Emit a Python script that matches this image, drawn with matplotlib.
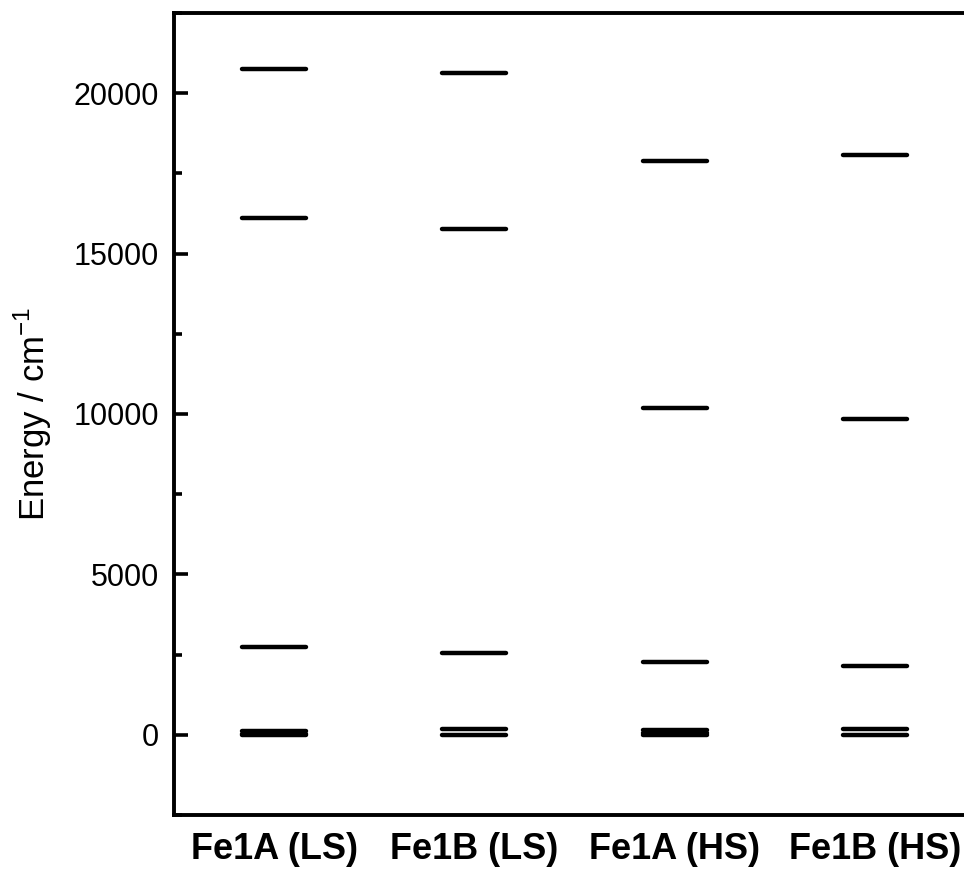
import numpy as np
import matplotlib
matplotlib.use('Agg')
from matplotlib import pyplot as plt
from matplotlib.ticker import MultipleLocator

plt.rcParams['font.family'] = ['Liberation Sans', 'DejaVu Sans']

# energy levels (cm-1) for each site / spin state
sites = ['Fe1A (LS)', 'Fe1B (LS)', 'Fe1A (HS)', 'Fe1B (HS)']
fe1a_ls = [0, 40, 110, 2730, 16120, 20760]
fe1b_ls = [0, 170, 2555, 15770, 20630]
fe1a_hs = [0, 70, 140, 2280, 10190, 17900]
fe1b_hs = [0, 180, 2150, 9840, 18080]
levels = [fe1a_ls, fe1b_ls, fe1a_hs, fe1b_hs]

fig = plt.figure(figsize=(9.64, 8.71), dpi=100)
ax = fig.add_axes([0.1805, 0.0643, 0.831, 0.9208])

half = 0.16
for i, lv in enumerate(levels):
    x = i + 1
    ax.hlines(lv, x - half, x + half, colors='black', linewidth=3.2, capstyle='round')

ax.set_xlim(0.5, 4.5)
ax.set_ylim(-2500, 22500)
ax.set_xticks([1, 2, 3, 4])
ax.set_xticklabels(sites, fontsize=26, fontweight='bold')
ax.tick_params(axis='x', length=0, pad=12)

ax.yaxis.set_major_locator(MultipleLocator(5000))
ax.yaxis.set_minor_locator(MultipleLocator(2500))
ax.tick_params(axis='y', which='major', direction='in', length=10, width=2.6, labelsize=22, pad=11)
ax.tick_params(axis='y', which='minor', direction='in', length=5.5, width=2.6)
ax.set_ylabel('Energy / cm$^{\\mathregular{-1}}$', fontsize=25, labelpad=14)

for s in ax.spines.values():
    s.set_linewidth(2.8)

plt.savefig('out.png', dpi=100)
